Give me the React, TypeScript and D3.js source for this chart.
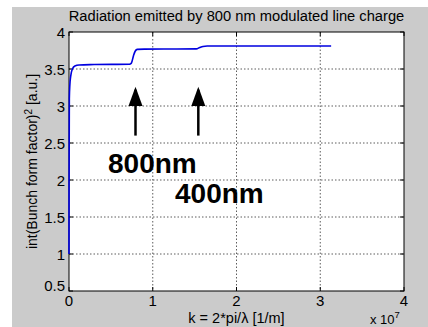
import React from "react";
import * as d3 from "d3";

const kValues = [0, 0.0008, 0.0012, 0.004, 0.01, 0.02, 0.04, 0.07, 0.12, 0.3, 0.72, 0.745, 0.77, 0.79, 0.815, 0.9, 1.52, 1.56, 1.6, 1.65, 2.0, 3.13];
const ffValues = [1.0, 1.95, 2.0, 3.1, 3.28, 3.4, 3.5, 3.54, 3.555, 3.56, 3.565, 3.58, 3.68, 3.74, 3.765, 3.768, 3.772, 3.79, 3.805, 3.81, 3.81, 3.81];
const xTicks = [0, 1, 2, 3, 4];
const yTicks = [0.5, 1, 1.5, 2, 2.5, 3, 3.5, 4];
const arrowK = [0.8, 1.55];
const labels = ["800nm", "400nm"];

export default function App() {
  const W = 428, H = 327;
  const L = 69, R = 404, T = 32, B = 291;
  const x = d3.scaleLinear().domain([0, 4]).range([L, R]);
  const y = d3.scaleLinear().domain([0.5, 4]).range([B, T]);
  const data = kValues.map((k, i) => [k, ffValues[i]] as [number, number]);
  const line = d3.line<[number, number]>().x(d => x(d[0])).y(d => y(d[1])).curve(d3.curveMonotoneX);
  const font = "Liberation Sans, Arial, sans-serif";
  return (
    <svg width={W} height={H} style={{ position: "absolute", left: 0, top: 0 }}>
      <rect x={12} y={7} width={W - 12} height={H - 7} fill="#cbcbcb" />
      <rect x={L} y={T} width={R - L} height={B - T} fill="#ffffff" />
      {xTicks.slice(1, -1).map(t => (
        <line key={"gx" + t} x1={x(t)} x2={x(t)} y1={T} y2={B} stroke="#333" strokeWidth={0.8} strokeDasharray="1.5,2" />
      ))}
      {yTicks.slice(1, -1).map(t => (
        <line key={"gy" + t} x1={L} x2={R} y1={y(t)} y2={y(t)} stroke="#333" strokeWidth={0.8} strokeDasharray="1.5,2" />
      ))}
      {xTicks.map(t => (
        <g key={"tx" + t}>
          <line x1={x(t)} x2={x(t)} y1={B} y2={B - 4} stroke="#000" />
          <line x1={x(t)} x2={x(t)} y1={T} y2={T + 4} stroke="#000" />
          <text x={x(t)} y={306} textAnchor="middle" fontFamily={font} fontSize={15}>{t}</text>
        </g>
      ))}
      {yTicks.map(t => (
        <g key={"ty" + t}>
          <line x1={L} x2={L + 4} y1={y(t)} y2={y(t)} stroke="#000" />
          <line x1={R} x2={R - 4} y1={y(t)} y2={y(t)} stroke="#000" />
          <text x={65} y={t === 0.5 ? y(t) : y(t) + 5.5} textAnchor="end" fontFamily={font} fontSize={15}>{t}</text>
        </g>
      ))}
      <rect x={L} y={T} width={R - L} height={B - T} fill="none" stroke="#000" strokeWidth={1} />
      <path d={line(data) ?? ""} fill="none" stroke="#0000e0" strokeWidth={1.6} />
      {arrowK.map((k, i) => (
        <g key={"ar" + i}>
          <line x1={x(k) - 0.5} x2={x(k) - 0.5} y1={y(3.22)} y2={y(2.6)} stroke="#000" strokeWidth={2.5} />
          <path d={`M${x(k) - 0.5},${y(3.26)} L${x(k) - 7.5},${y(3.0)} L${x(k) + 6.5},${y(3.0)} Z`} fill="#000" />
        </g>
      ))}
      <text x={108} y={173} fontFamily={font} fontWeight="bold" fontSize={28}>{labels[0]}</text>
      <text x={175} y={203} fontFamily={font} fontWeight="bold" fontSize={28}>{labels[1]}</text>
      <text x={(L + R) / 2} y={21} textAnchor="middle" fontFamily={font} fontSize={14.7}>Radiation emitted by 800 nm modulated line charge</text>
      <text x={(L + R) / 2} y={323} textAnchor="middle" fontFamily={font} fontSize={14.5}>k = 2*pi/λ [1/m]</text>
      <text x={370} y={324} fontFamily={font} fontSize={13}>x 10<tspan dy={-6} fontSize={9.5}>7</tspan></text>
      <text transform={`translate(37,${(T + B) / 2}) rotate(-90)`} textAnchor="middle" fontFamily={font} fontSize={14}>
        int(Bunch form factor)<tspan dy={-5} fontSize={10}>2</tspan><tspan dy={5}> [a.u.]</tspan>
      </text>
    </svg>
  );
}
